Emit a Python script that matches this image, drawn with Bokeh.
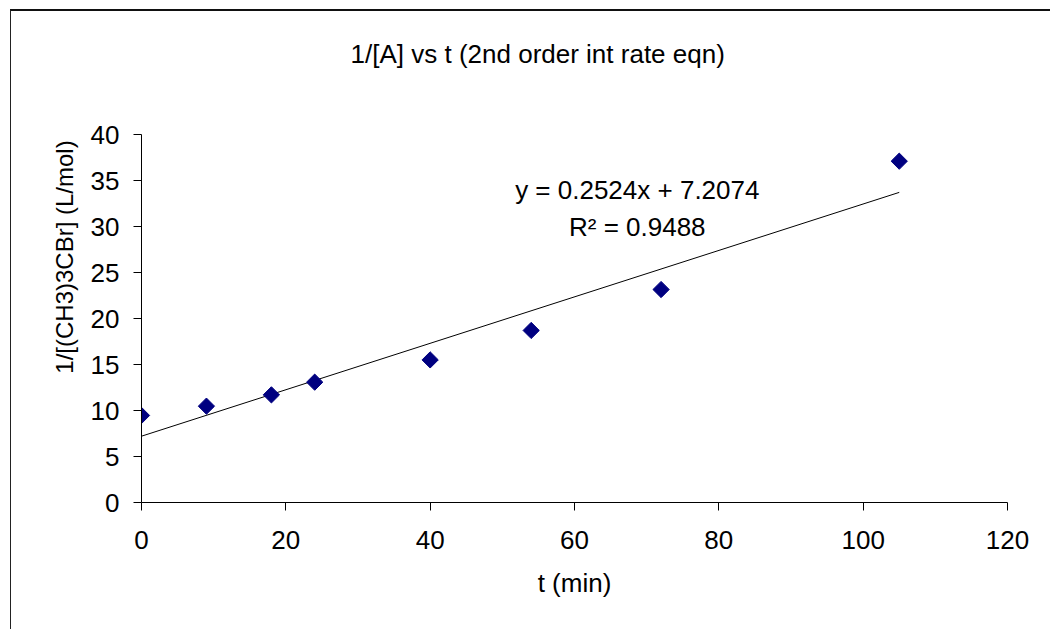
import math
from bokeh.plotting import figure
from bokeh.models import Range1d, Label, FixedTicker
from bokeh.embed import file_html
from bokeh.resources import INLINE

# data
t_min = [0, 9, 18, 24, 40, 54, 72, 105]
inv_conc = [9.46, 10.47, 11.7, 13.08, 15.5, 18.7, 23.15, 37.1]
slope = 0.2524
intercept = 7.2074
r_squared = 0.9488
x_ticks = [0, 20, 40, 60, 80, 100, 120]
y_ticks = [0, 5, 10, 15, 20, 25, 30, 35, 40]
title_text = "1/[A] vs t (2nd order int rate eqn)"

FONT = "Liberation Sans"

# frame extended above y=40 to hold the title; y axis line bounded to 0..40
p = figure(width=1040, height=620, output_backend="svg", toolbar_location=None,
           x_range=Range1d(0, 120), y_range=Range1d(0, 53.37),
           min_border_left=130, min_border_right=44, min_border_top=0, min_border_bottom=129)
p.styles = {"margin-left": "10px", "margin-top": "9px",
            "border-left": "1px solid #222222", "border-top": "2px solid #111111"}
p.outline_line_color = None
p.xgrid.visible = False
p.ygrid.visible = False
p.background_fill_color = "white"
p.border_fill_color = "white"

for ax in (p.xaxis[0], p.yaxis[0]):
    ax.axis_line_color = "black"
    ax.major_tick_line_color = "black"
    ax.major_tick_in = 0
    ax.major_tick_out = 8
    ax.minor_tick_line_color = None
    ax.major_label_text_font = FONT
    ax.major_label_text_font_size = "26px"
    ax.major_label_text_color = "black"
    ax.axis_label_text_font = FONT
    ax.axis_label_text_font_style = "normal"
    ax.axis_label_text_color = "black"

p.xaxis.ticker = FixedTicker(ticks=x_ticks)
p.yaxis.ticker = FixedTicker(ticks=y_ticks)
p.yaxis.bounds = (0, 40)
p.xaxis.major_label_standoff = 20
p.yaxis.major_label_standoff = 14
p.xaxis.axis_label = "t (min)"
p.xaxis.axis_label_text_font_size = "26px"
p.xaxis.axis_label_standoff = 16
p.yaxis.axis_label = "1/[(CH3)3CBr] (L/mol)"
p.yaxis.axis_label_text_font_size = "24px"
p.yaxis.axis_label_standoff = 10

# trend line
x_fit = [0, max(t_min)]
y_fit = [slope * x + intercept for x in x_fit]
p.line(x_fit, y_fit, line_color="black", line_width=1)

# data points
p.scatter(t_min, inv_conc, marker="square", size=11.5, angle=math.pi / 4,
          fill_color="#000080", line_color="#000080")

p.add_layout(Label(x=54.9, y=48.7, text=title_text,
                   text_font=FONT, text_font_size="26px", text_align="center",
                   text_baseline="middle", text_color="black"))
p.add_layout(Label(x=68.7, y=34.0, text=f"y = {slope}x + {intercept}",
                   text_font=FONT, text_font_size="26px", text_align="center",
                   text_baseline="middle", text_color="black"))
p.add_layout(Label(x=68.7, y=30.0, text=f"R\u00b2 = {r_squared}",
                   text_font=FONT, text_font_size="26px", text_align="center",
                   text_baseline="middle", text_color="black"))

open("out.html", "w").write(file_html(p, INLINE))
